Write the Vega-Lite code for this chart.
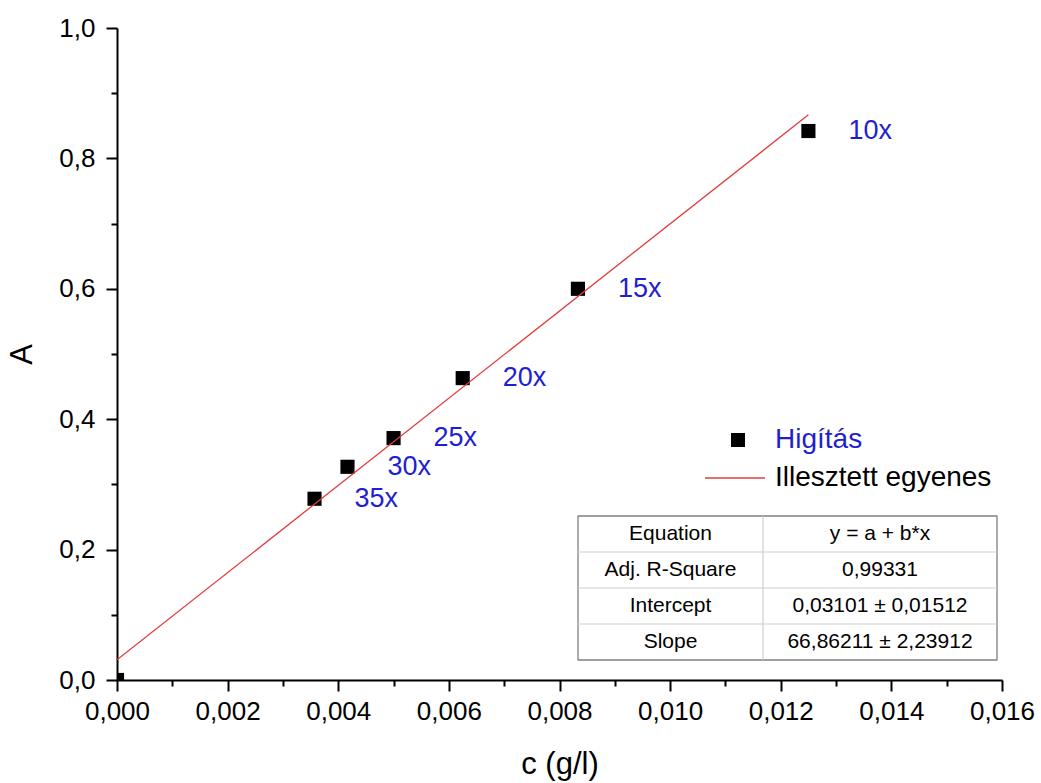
{
  "$schema": "https://vega.github.io/schema/vega-lite/v6.json",
  "width": 885,
  "height": 652,
  "autosize": {"type": "none"},
  "padding": {"left": 117, "top": 28, "right": 39, "bottom": 103},
  "background": "white",
  "config": {"font": "Liberation Sans", "view": {"stroke": null}},
  "datasets": {
    "points": [
      {"c": 0, "A": 0, "label": "", "series": "Higítás"},
      {"c": 0.003571, "A": 0.278, "label": "35x", "series": "Higítás"},
      {"c": 0.004167, "A": 0.327, "label": "30x", "series": "Higítás"},
      {"c": 0.005, "A": 0.371, "label": "25x", "series": "Higítás"},
      {"c": 0.00625, "A": 0.463, "label": "20x", "series": "Higítás"},
      {"c": 0.008333, "A": 0.6, "label": "15x", "series": "Higítás"},
      {"c": 0.0125, "A": 0.842, "label": "10x", "series": "Higítás"}
    ],
    "fit": [
      {"c": 0, "A": 0.03101, "series": "Illesztett egyenes"},
      {"c": 0.0125, "A": 0.86679, "series": "Illesztett egyenes"}
    ],
    "table": [
      {"row": 0, "col": 0, "text": "Equation"},
      {"row": 0, "col": 1, "text": "y = a + b*x"},
      {"row": 1, "col": 0, "text": "Adj. R-Square"},
      {"row": 1, "col": 1, "text": "0,99331"},
      {"row": 2, "col": 0, "text": "Intercept"},
      {"row": 2, "col": 1, "text": "0,03101 ± 0,01512"},
      {"row": 3, "col": 0, "text": "Slope"},
      {"row": 3, "col": 1, "text": "66,86211 ± 2,23912"}
    ],
    "hlines": [{"b": 0.5}, {"b": 1.5}, {"b": 2.5}]
  },
  "layer": [
    {
      "layer": [
        {
          "data": {"name": "points"},
          "mark": {"type": "point", "filled": true, "size": 200, "opacity": 1, "color": "black", "clip": true},
          "encoding": {
            "x": {
              "field": "c", "type": "quantitative",
              "scale": {"domain": [0, 0.016], "nice": false, "zero": false},
              "axis": {
                "orient": "bottom",
                "title": "c (g/l)",
                "values": [0, 0.002, 0.004, 0.006, 0.008, 0.01, 0.012, 0.014, 0.016],
                "labelExpr": "replace(format(datum.value,'.3f'),'.',',')",
                "tickSize": 11, "tickWidth": 2, "tickColor": "black",
                "domainColor": "black", "domainWidth": 2,
                "labelFontSize": 26, "labelColor": "black", "labelPadding": 7,
                "labelOverlap": false, "labelFlush": false, "grid": false,
                "titleFontSize": 31, "titleFontWeight": "normal", "titleColor": "black", "titlePadding": 25
              }
            },
            "y": {
              "field": "A", "type": "quantitative",
              "scale": {"domain": [0, 1], "nice": false, "zero": false},
              "axis": {
                "orient": "left",
                "title": "A",
                "values": [0, 0.2, 0.4, 0.6, 0.8, 1],
                "labelExpr": "replace(format(datum.value,'.1f'),'.',',')",
                "tickSize": 11, "tickWidth": 2, "tickColor": "black",
                "domainColor": "black", "domainWidth": 2,
                "labelFontSize": 26, "labelColor": "black", "labelPadding": 11,
                "labelOverlap": false, "labelFlush": false, "grid": false,
                "titleFontSize": 31, "titleFontWeight": "normal", "titleColor": "black", "titlePadding": 20
              }
            },
            "shape": {
              "field": "series", "type": "nominal",
              "scale": {"domain": ["Higítás"], "range": ["square"]},
              "legend": {
                "orient": "none", "legendX": 607, "legendY": 398, "title": null,
                "labelFontSize": 28, "labelOffset": 23, "symbolSize": 196, "padding": 0,
                "symbolFillColor": "black", "symbolStrokeColor": "black", "symbolStrokeWidth": 0,
                "labelColor": "#1f1fd1", "labelLimit": 500
              }
            }
          }
        },
        {
          "data": {"name": "fit"},
          "mark": {"type": "line", "strokeWidth": 1.3, "clip": true},
          "encoding": {
            "x": {
              "field": "c", "type": "quantitative",
              "axis": {
                "orient": "bottom", "title": null, "labels": false, "domain": false, "grid": false,
                "values": [0.001, 0.003, 0.005, 0.007, 0.009, 0.011, 0.013, 0.015],
                "tickSize": 6, "tickWidth": 2, "tickColor": "black"
              }
            },
            "y": {
              "field": "A", "type": "quantitative",
              "axis": {
                "orient": "left", "title": null, "labels": false, "domain": false, "grid": false,
                "values": [0.1, 0.3, 0.5, 0.7, 0.9],
                "tickSize": 6, "tickWidth": 2, "tickColor": "black"
              }
            },
            "color": {
              "field": "series", "type": "nominal",
              "scale": {"domain": ["Illesztett egyenes"], "range": ["#e23b3b"]},
              "legend": {
                "orient": "none", "legendX": 587, "legendY": 419, "title": null,
                "labelFontSize": 28, "labelOffset": 9, "symbolSize": 3600, "padding": 0,
                "symbolType": "stroke", "symbolStrokeWidth": 1.5,
                "labelColor": "black", "labelLimit": 500
              }
            }
          }
        },
        {
          "data": {"name": "points"},
          "mark": {"type": "text", "align": "left", "baseline": "middle", "dx": 40, "fontSize": 27, "color": "#1f1fd1"},
          "encoding": {
            "x": {"field": "c", "type": "quantitative", "axis": null},
            "y": {"field": "A", "type": "quantitative", "axis": null},
            "text": {"field": "label"}
          }
        }
      ],
      "resolve": {"axis": {"x": "independent", "y": "independent"}}
    },
    {
      "layer": [
        {
          "data": {"values": [{}]},
          "mark": {"type": "rect", "fill": "#bdbdbd", "xOffset": 3, "yOffset": 3},
          "encoding": {
            "x": {"datum": -0.5, "type": "quantitative", "scale": {"domain": [-0.5, 0, 0.5, 1, 1.5], "range": [461, 553.5, 646, 763, 880], "nice": false, "zero": false}, "axis": null},
            "x2": {"datum": 1.5},
            "y": {"datum": -0.5, "type": "quantitative", "scale": {"domain": [-0.5, 3.5], "range": [488, 632], "nice": false, "zero": false}, "axis": null},
            "y2": {"datum": 3.5}
          }
        },
        {
          "data": {"values": [{}]},
          "mark": {"type": "rect", "fill": "white", "stroke": "#808080", "strokeWidth": 1.3},
          "encoding": {
            "x": {"datum": -0.5, "type": "quantitative", "scale": {"domain": [-0.5, 0, 0.5, 1, 1.5], "range": [461, 553.5, 646, 763, 880], "nice": false, "zero": false}, "axis": null},
            "x2": {"datum": 1.5},
            "y": {"datum": -0.5, "type": "quantitative", "scale": {"domain": [-0.5, 3.5], "range": [488, 632], "nice": false, "zero": false}, "axis": null},
            "y2": {"datum": 3.5}
          }
        },
        {
          "data": {"values": [{}]},
          "mark": {"type": "rule", "stroke": "#d0d0d0", "strokeWidth": 1.2},
          "encoding": {
            "x": {"datum": 0.5, "type": "quantitative", "scale": {"domain": [-0.5, 0, 0.5, 1, 1.5], "range": [461, 553.5, 646, 763, 880], "nice": false, "zero": false}, "axis": null},
            "y": {"datum": -0.5, "type": "quantitative", "scale": {"domain": [-0.5, 3.5], "range": [488, 632], "nice": false, "zero": false}, "axis": null},
            "y2": {"datum": 3.5}
          }
        },
        {
          "data": {"name": "hlines"},
          "mark": {"type": "rule", "stroke": "#d0d0d0", "strokeWidth": 1.2},
          "encoding": {
            "x": {"datum": -0.5, "type": "quantitative", "scale": {"domain": [-0.5, 0, 0.5, 1, 1.5], "range": [461, 553.5, 646, 763, 880], "nice": false, "zero": false}, "axis": null},
            "x2": {"datum": 1.5},
            "y": {"field": "b", "type": "quantitative", "scale": {"domain": [-0.5, 3.5], "range": [488, 632], "nice": false, "zero": false}, "axis": null}
          }
        },
        {
          "data": {"name": "table"},
          "mark": {"type": "text", "align": "center", "baseline": "middle", "fontSize": 21, "color": "black"},
          "encoding": {
            "x": {"field": "col", "type": "quantitative", "scale": {"domain": [-0.5, 0, 0.5, 1, 1.5], "range": [461, 553.5, 646, 763, 880], "nice": false, "zero": false}, "axis": null},
            "y": {"field": "row", "type": "quantitative", "scale": {"domain": [-0.5, 3.5], "range": [488, 632], "nice": false, "zero": false}, "axis": null},
            "text": {"field": "text"}
          }
        }
      ]
    }
  ],
  "resolve": {"scale": {"x": "independent", "y": "independent"}}
}
